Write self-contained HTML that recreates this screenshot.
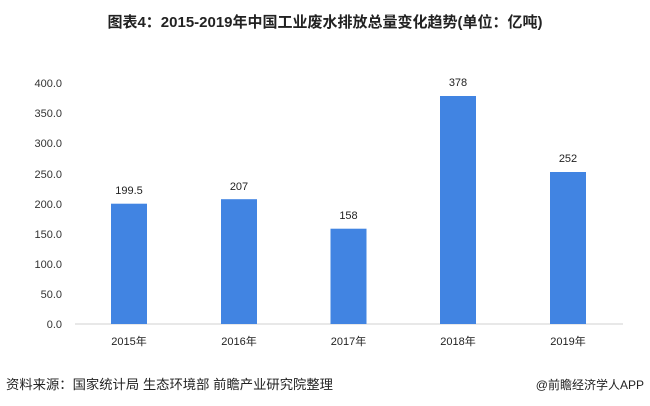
<!DOCTYPE html>
<html><head><meta charset="utf-8"><style>
body{margin:0;background:#fff;}
svg{display:block;font-family:"Liberation Sans","Noto Sans CJK SC",sans-serif;}
</style></head><body>
<svg width="650" height="406" xmlns="http://www.w3.org/2000/svg">
<text x="325" y="27" text-anchor="middle" font-size="15" font-weight="bold" fill="#222">图表4：2015-2019年中国工业废水排放总量变化趋势(单位：亿吨)</text>
<g font-size="11" fill="#333" text-anchor="end">
<text x="62" y="87">400.0</text>
<text x="62" y="117">350.0</text>
<text x="62" y="147">300.0</text>
<text x="62" y="178">250.0</text>
<text x="62" y="208">200.0</text>
<text x="62" y="238">150.0</text>
<text x="62" y="268">100.0</text>
<text x="62" y="298">50.0</text>
<text x="62" y="328">0.0</text>
</g>
<line x1="75" y1="324" x2="623" y2="324" stroke="#d0d0d0" stroke-width="1"/>
<g fill="#4184e2">
<rect x="111" y="203.7" width="36" height="120.3"/>
<rect x="221" y="199.2" width="36" height="124.8"/>
<rect x="330.5" y="228.7" width="36" height="95.3"/>
<rect x="440" y="96" width="36" height="228"/>
<rect x="550" y="172" width="36" height="152"/>
</g>
<g font-size="11" fill="#222" text-anchor="middle">
<text x="129" y="194">199.5</text>
<text x="239" y="190">207</text>
<text x="348.5" y="219">158</text>
<text x="458" y="86">378</text>
<text x="568" y="162">252</text>
<text x="129" y="345">2015年</text>
<text x="239" y="345">2016年</text>
<text x="348.5" y="345">2017年</text>
<text x="458" y="345">2018年</text>
<text x="568" y="345">2019年</text>
</g>
<text x="6" y="389" font-size="13" fill="#222" textLength="327" lengthAdjust="spacingAndGlyphs">资料来源：国家统计局 生态环境部 前瞻产业研究院整理</text>
<text x="644" y="389" font-size="12" fill="#222" text-anchor="end">@前瞻经济学人APP</text>
</svg>
</body></html>
